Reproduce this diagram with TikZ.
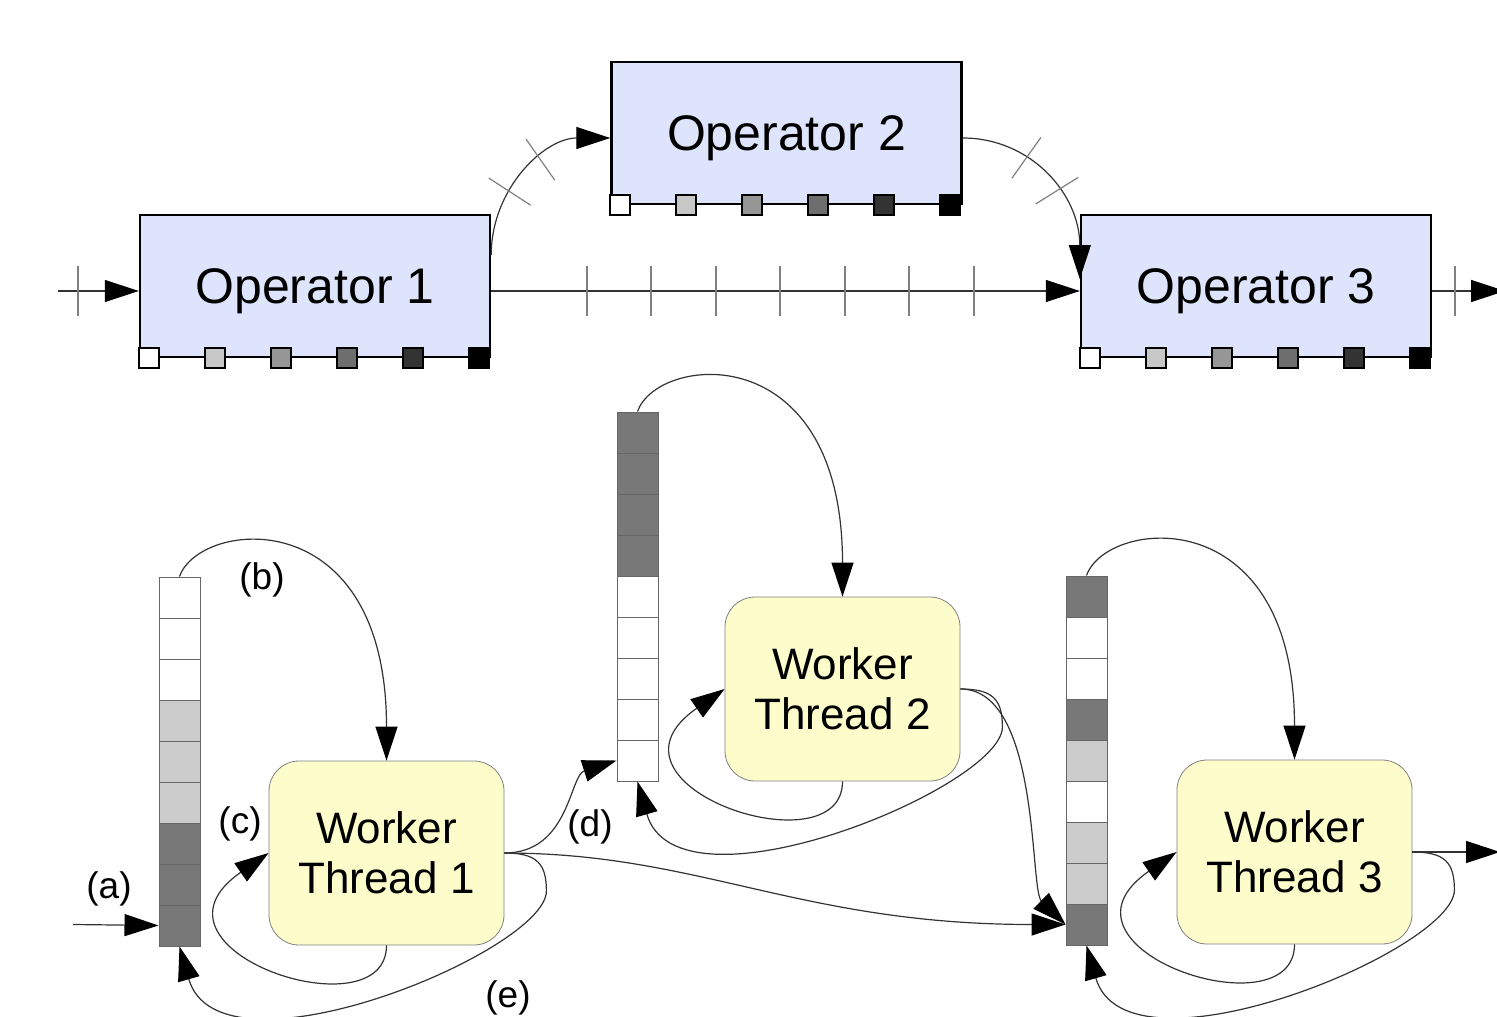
\documentclass[tikz,border=0pt]{standalone}
\usepackage{fontspec}
\setmainfont{Liberation Sans}
\usetikzlibrary{arrows.meta,decorations.markings}

\definecolor{opfill}{RGB}{222,228,252}
\definecolor{wkfill}{RGB}{253,253,204}
\definecolor{light}{RGB}{204,204,204}
\definecolor{dark}{RGB}{120,120,120}

\begin{document}
\begin{tikzpicture}[x=0.5pt,y=-0.5pt,
    op/.style={draw,line width=1.2pt,fill=opfill,minimum width=175pt,minimum height=71pt,inner sep=0pt,text depth=0pt,font=\fontsize{25}{30}\selectfont},
    tok/.style={draw,line width=0.9pt,minimum size=10pt,inner sep=0pt},
    worker/.style={draw=black!50,fill=wkfill,rounded corners=15pt,minimum width=117.5pt,minimum height=92pt,align=center,font=\fontsize{22}{25}\selectfont},
    cell/.style={draw=black!60,line width=0.5pt,minimum width=20.5pt,minimum height=20.5pt,inner sep=0pt},
    lbl/.style={font=\fontsize{18.5}{20}\selectfont},
    flow/.style={-{Triangle[length=17pt,width=11pt,color=black]},line width=0.6pt,draw=black!80},
    tickmark/.style={-,draw=black!50,line width=0.6pt},
    cuts/.style 2 args={postaction={decorate},decoration={markings,
        mark=at position #1 with {\draw[tickmark] (0,-12.5pt) -- (0,12.5pt);},
        mark=at position #2 with {\draw[tickmark] (0,-12.5pt) -- (0,12.5pt);}}}]
    \useasboundingbox (0,0) rectangle (1497,1016);

    \node[op] (op1) at (315,286) {Operator 1};
    \node[op] (op2) at (786.5,133) {Operator 2};
    \node[op] (op3) at (1256,286) {Operator 3};
    \foreach \n in {op1,op2,op3}
        \foreach \c [count=\i from 0] in {white,black!22,black!41,black!57,black!80,black}
            \node[tok,fill=\c] at ([xshift=5pt+\i*33pt]\n.south west) {};

    \coordinate (in) at (58,291);
    \coordinate (out) at (1505,291);
    \draw[flow] (in) -- ([yshift=-2.5pt]op1.west);
    \draw[flow] ([yshift=-2.5pt]op1.east) -- ([yshift=-2.5pt]op3.west);
    \draw[flow] ([yshift=-2.5pt]op3.east) -- (out);
    \draw[flow,cuts={0.36}{0.6}] (op1.10) .. controls +(0,-66) and +(-66,0) .. ([yshift=-2.5pt]op2.west);
    \draw[flow,cuts={0.33}{0.55}] ([yshift=-2.5pt]op2.east) .. controls +(68,0) and +(0,-85) .. ([yshift=3.5pt]op3.west);
    \foreach \x in {78,587,651,716,780,845,909,974,1455}
        \draw[tickmark] (\x,266) -- (\x,316);

    \foreach \c [count=\i] in {white,white,white,light,light,light,dark,dark,dark}
        \node[cell,fill=\c] (q1c\i) at (179.5,556.5+41*\i) {};
    \foreach \c [count=\i] in {dark,dark,dark,dark,white,white,white,white,white}
        \node[cell,fill=\c] (q2c\i) at (637.5,391.5+41*\i) {};
    \foreach \c [count=\i] in {dark,white,white,dark,light,white,light,light,dark}
        \node[cell,fill=\c] (q3c\i) at (1086.5,555.5+41*\i) {};

    \node[worker] (w1) at (386.5,853) {Worker\\Thread 1};
    \node[worker] (w2) at (842.5,689) {Worker\\Thread 2};
    \node[worker] (w3) at (1294.5,852) {Worker\\Thread 3};

    \coordinate (src) at (73,924.5);
    \coordinate (sink) at (1500,852);
    \draw[flow] (src) -- (q1c9.west);
    \draw[flow] (w3.east) -- (sink);
    \foreach \q/\w in {q1/w1,q2/w2,q3/w3} {
        \draw[flow] (\q c1.north) .. controls +(20,-57) and +(0,-261) .. (\w.north);
        \draw[flow] (\w.south) .. controls +(0,90) and +(-140,97) .. (\w.west);
        \draw[flow] (\w.east) .. controls +(32,0) and +(0,-28) .. ++(42,38)
            .. controls +(0,60) and +(40,140) .. (\q c9.south);
    }
    \draw[flow] (w1.east) .. controls +(65,0) and +(-47,15) .. (q2c9.west);
    \draw[flow] (w1.east) .. controls +(195,0) and +(-266,0) .. (q3c9.west);
    \draw[flow] (w2.east) .. controls +(80,0) and +(-36,-35) .. (q3c9.west);

    \node[lbl] (la) at (109,889) {(a)};
    \node[lbl] (lb) at (262,580) {(b)};
    \node[lbl] (lc) at (240,824) {(c)};
    \node[lbl] (ld) at (590,827) {(d)};
    \node[lbl] (le) at (508,998) {(e)};
\end{tikzpicture}
\end{document}
